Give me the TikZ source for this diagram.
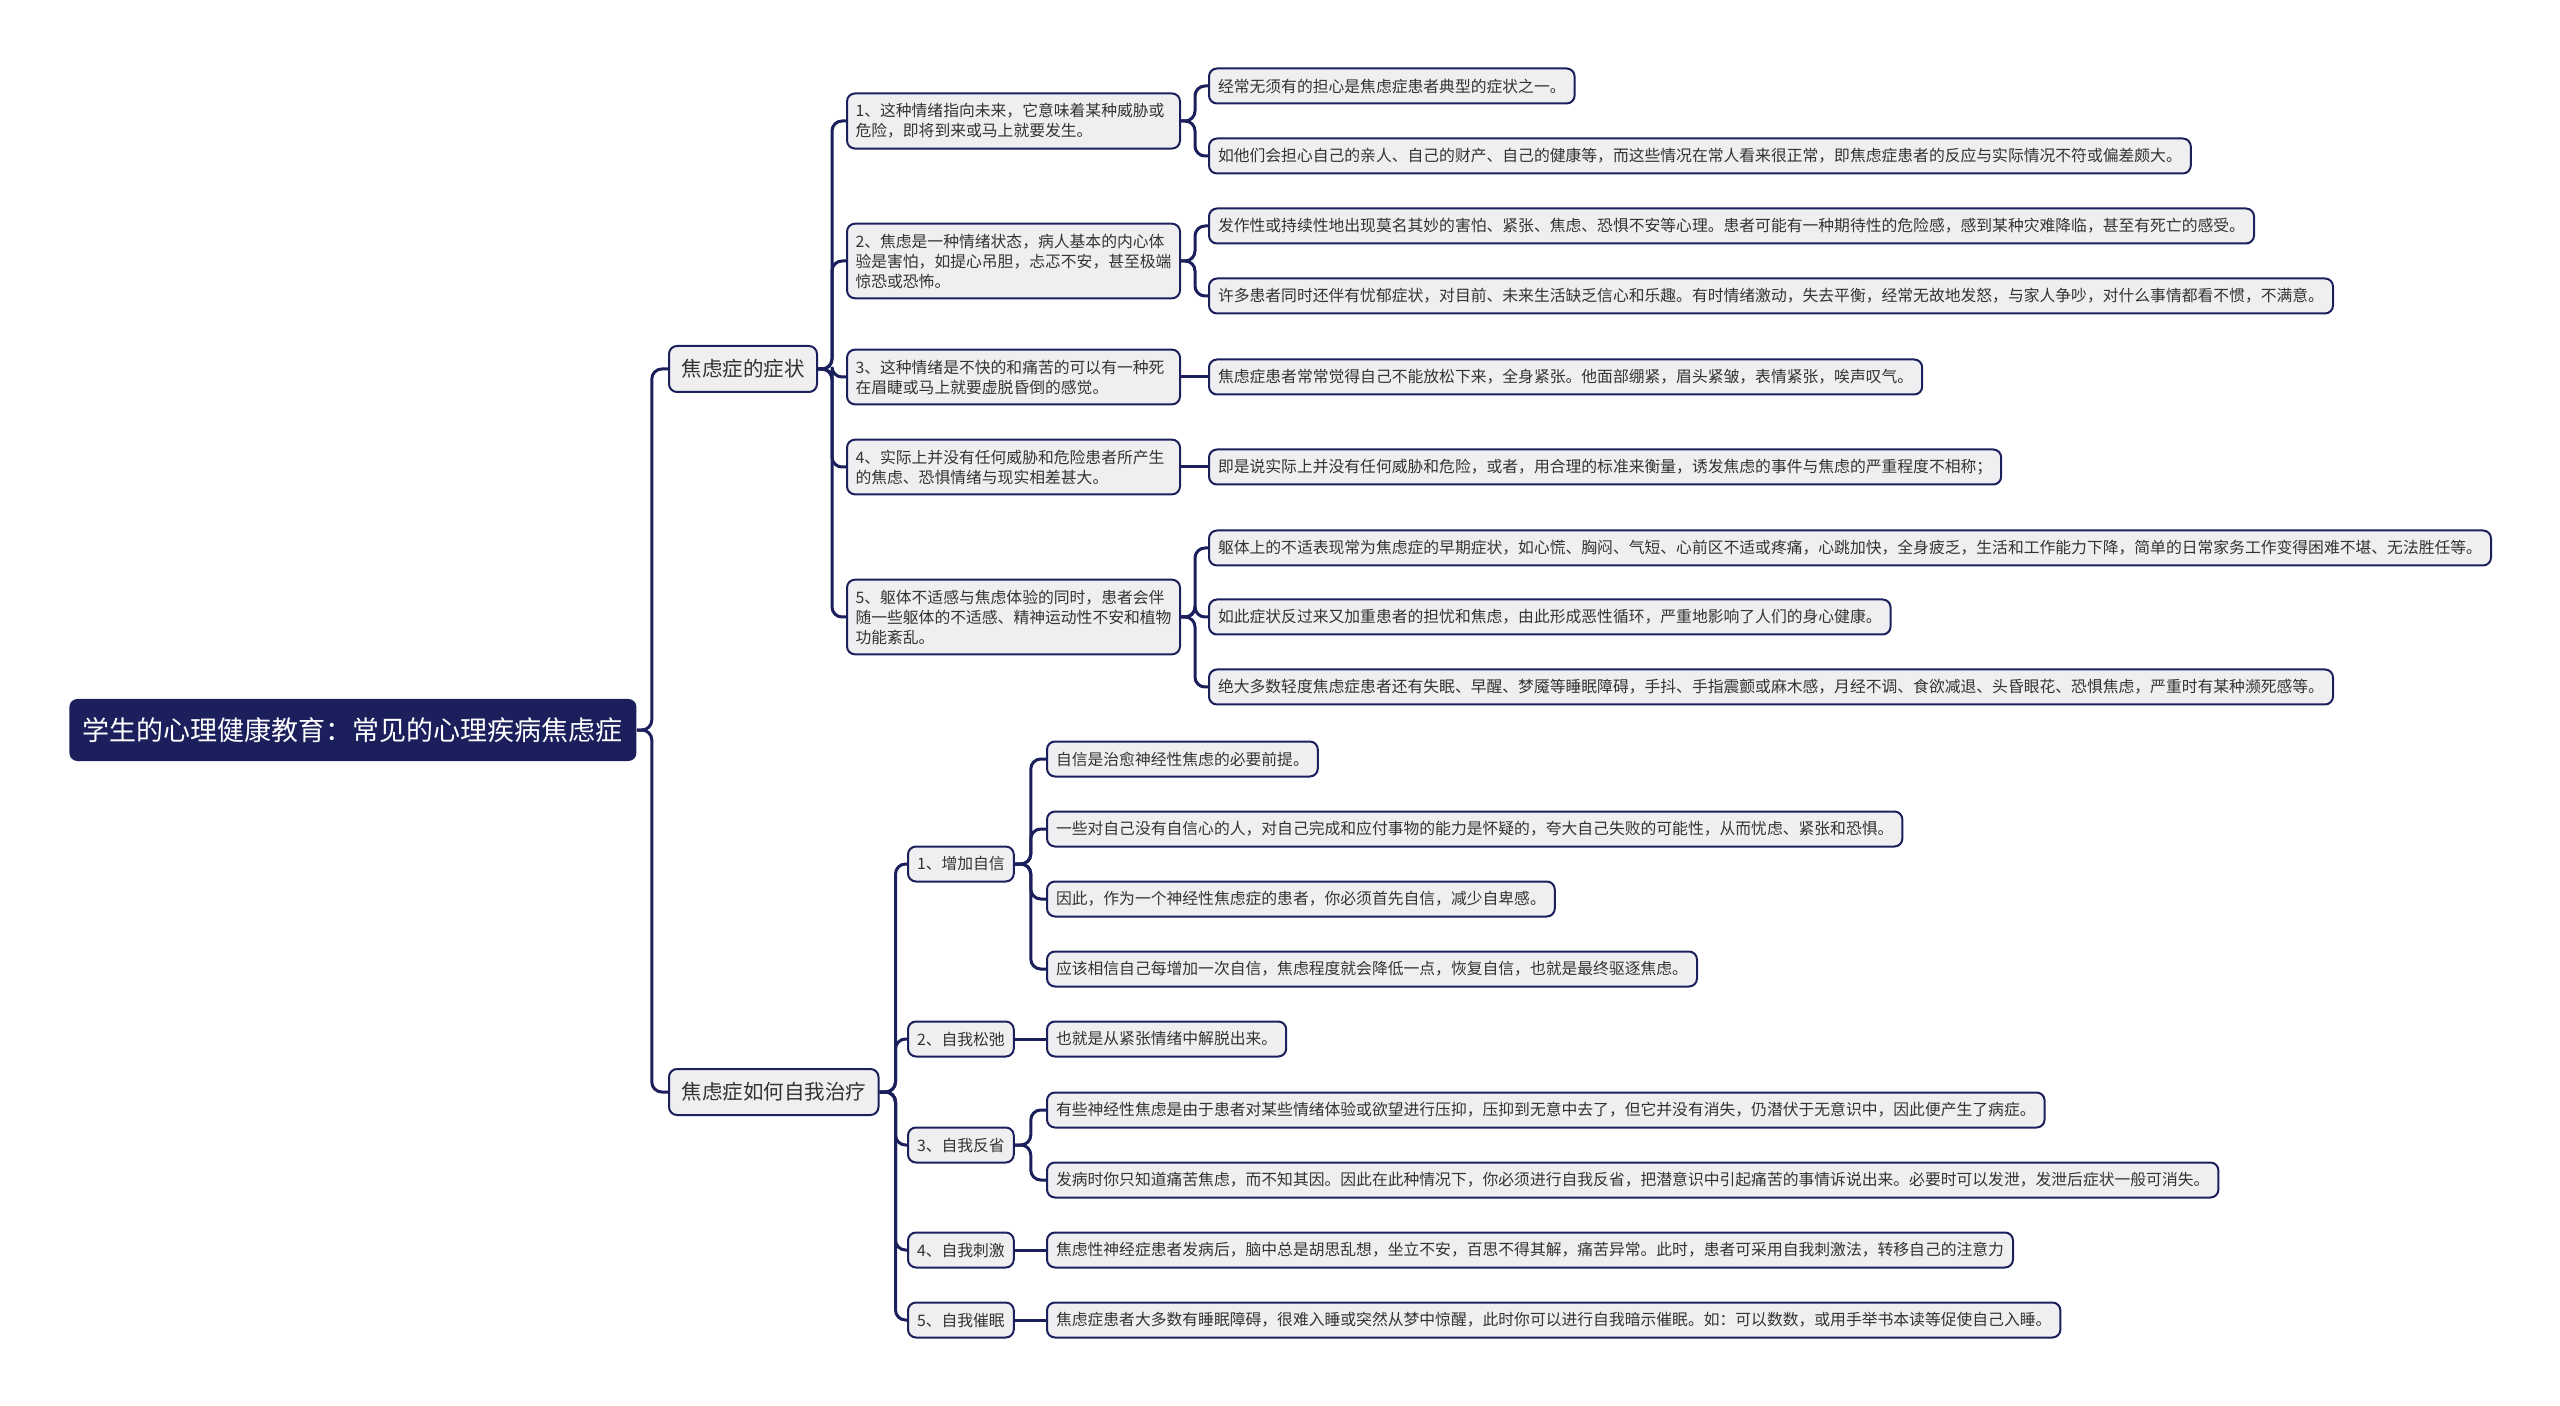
\documentclass[tikz,border=0pt]{standalone}
\usepackage{fontspec}
\setmainfont{Noto Sans CJK SC}
\usepackage{tikz}
\definecolor{MapNavy}{HTML}{1B1F5C}
\definecolor{MapFill}{HTML}{EFEFF1}
\definecolor{MapInk}{HTML}{333333}

\begin{document}
\begin{tikzpicture}[x=0.5pt,y=-0.5pt]
  \tikzstyle{mainbox}=[fill=MapNavy,text=white,rounded corners=4pt,anchor=west,
    inner xsep=6.75pt,minimum height=31pt,font=\fontsize{13.5}{16}\selectfont]
  \tikzstyle{topicbox}=[draw=MapNavy,line width=1pt,fill=MapFill,text=MapInk,
    rounded corners=4pt,anchor=west,inner xsep=6.25pt,minimum height=23pt,
    font=\fontsize{10.25}{12}\selectfont]
  \tikzstyle{causebox}=[draw=MapNavy,line width=1pt,fill=MapFill,text=MapInk,
    rounded corners=4pt,anchor=west,text width=158pt,align=left,
    inner xsep=4.25pt,inner ysep=5pt,font=\fontsize{7.9}{10}\selectfont]
  \tikzstyle{notebox}=[draw=MapNavy,line width=1pt,fill=MapFill,text=MapInk,
    rounded corners=4pt,anchor=west,inner xsep=4.5pt,minimum height=17.5pt,
    font=\fontsize{7.9}{9.5}\selectfont]
  \tikzstyle{link}=[line width=1.5pt,color=MapNavy,rounded corners=5pt]
  \useasboundingbox (0,0) rectangle (2560,1406);
  \node[mainbox] (root) at (69,730) {学生的心理健康教育：常见的心理疾病焦虑症};
  \node[topicbox] (sym) at (668,369) {焦虑症的症状};
  \node[topicbox] (cure) at (668,1092) {焦虑症如何自我治疗};
  \node[causebox] (s1) at (846,121) {1、这种情绪指向未来，它意味着某种威胁或\\
    危险，即将到来或马上就要发生。};
  \node[causebox] (s2) at (846,261) {2、焦虑是一种情绪状态，病人基本的内心体\\
    验是害怕，如提心吊胆，忐忑不安，甚至极端\\惊恐或恐怖。};
  \node[causebox] (s3) at (846,377) {3、这种情绪是不快的和痛苦的可以有一种死\\
    在眉睫或马上就要虚脱昏倒的感觉。};
  \node[causebox] (s4) at (846,467) {4、实际上并没有任何威胁和危险患者所产生\\
    的焦虑、恐惧情绪与现实相差甚大。};
  \node[causebox] (s5) at (846,617) {5、躯体不适感与焦虑体验的同时，患者会伴\\
    随一些躯体的不适感、精神运动性不安和植物\\功能紊乱。};
  \node[notebox] (s1a) at (1208,86) {经常无须有的担心是焦虑症患者典型的症状之一。};
  \node[notebox] (s1b) at (1208,156) {如他们会担心自己的亲人、自己的财产、自己的健康等，而这些情况在常人看来很正常，即焦虑症患者的反应与实际情况不符或偏差颇大。};
  \node[notebox] (s2a) at (1208,226) {发作性或持续性地出现莫名其妙的害怕、紧张、焦虑、恐惧不安等心理。患者可能有一种期待性的危险感，感到某种灾难降临，甚至有死亡的感受。};
  \node[notebox] (s2b) at (1208,296) {许多患者同时还伴有忧郁症状，对目前、未来生活缺乏信心和乐趣。有时情绪激动，失去平衡，经常无故地发怒，与家人争吵，对什么事情都看不惯，不满意。};
  \node[notebox] (s3a) at (1208,377) {焦虑症患者常常觉得自己不能放松下来，全身紧张。他面部绷紧，眉头紧皱，表情紧张，唉声叹气。};
  \node[notebox] (s4a) at (1208,467) {即是说实际上并没有任何威胁和危险，或者，用合理的标准来衡量，诱发焦虑的事件与焦虑的严重程度不相称；};
  \node[notebox] (s5a) at (1208,548) {躯体上的不适表现常为焦虑症的早期症状，如心慌、胸闷、气短、心前区不适或疼痛，心跳加快，全身疲乏，生活和工作能力下降，简单的日常家务工作变得困难不堪、无法胜任等。};
  \node[notebox] (s5b) at (1208,617) {如此症状反过来又加重患者的担忧和焦虑，由此形成恶性循环，严重地影响了人们的身心健康。};
  \node[notebox] (s5c) at (1208,687) {绝大多数轻度焦虑症患者还有失眠、早醒、梦魇等睡眠障碍，手抖、手指震颤或麻木感，月经不调、食欲减退、头昏眼花、恐惧焦虑，严重时有某种濒死感等。};
  \node[notebox] (c1) at (907,864) {1、增加自信};
  \node[notebox] (c2) at (907,1039) {2、自我松弛};
  \node[notebox] (c3) at (907,1145) {3、自我反省};
  \node[notebox] (c4) at (907,1250) {4、自我刺激};
  \node[notebox] (c5) at (907,1320) {5、自我催眠};
  \node[notebox] (c1a) at (1046,759) {自信是治愈神经性焦虑的必要前提。};
  \node[notebox] (c1b) at (1046,829) {一些对自己没有自信心的人，对自己完成和应付事物的能力是怀疑的，夸大自己失败的可能性，从而忧虑、紧张和恐惧。};
  \node[notebox] (c1c) at (1046,899) {因此，作为一个神经性焦虑症的患者，你必须首先自信，减少自卑感。};
  \node[notebox] (c1d) at (1046,969) {应该相信自己每增加一次自信，焦虑程度就会降低一点，恢复自信，也就是最终驱逐焦虑。};
  \node[notebox] (c2a) at (1046,1039) {也就是从紧张情绪中解脱出来。};
  \node[notebox] (c3a) at (1046,1110) {有些神经性焦虑是由于患者对某些情绪体验或欲望进行压抑，压抑到无意中去了，但它并没有消失，仍潜伏于无意识中，因此便产生了病症。};
  \node[notebox] (c3b) at (1046,1180) {发病时你只知道痛苦焦虑，而不知其因。因此在此种情况下，你必须进行自我反省，把潜意识中引起痛苦的事情诉说出来。必要时可以发泄，发泄后症状一般可消失。};
  \node[notebox] (c4a) at (1046,1250) {焦虑性神经症患者发病后，脑中总是胡思乱想，坐立不安，百思不得其解，痛苦异常。此时，患者可采用自我刺激法，转移自己的注意力};
  \node[notebox] (c5a) at (1046,1320) {焦虑症患者大多数有睡眠障碍，很难入睡或突然从梦中惊醒，此时你可以进行自我暗示催眠。如：可以数数，或用手举书本读等促使自己入睡。};
  \draw[link] (root.east) -- ++(15,0) |- (sym.west);
  \draw[link] (root.east) -- ++(15,0) |- (cure.west);
  \draw[link] (sym.east) -- ++(14,0) |- (s1.west);
  \draw[link] (sym.east) -- ++(14,0) |- (s2.west);
  \draw[link] (sym.east) -- ++(14,0) |- (s3.west);
  \draw[link] (sym.east) -- ++(14,0) |- (s4.west);
  \draw[link] (sym.east) -- ++(14,0) |- (s5.west);
  \draw[link] (s1.east) -- ++(14,0) |- (s1a.west);
  \draw[link] (s1.east) -- ++(14,0) |- (s1b.west);
  \draw[link] (s2.east) -- ++(14,0) |- (s2a.west);
  \draw[link] (s2.east) -- ++(14,0) |- (s2b.west);
  \draw[link] (s3.east) -- (s3a.west);
  \draw[link] (s4.east) -- (s4a.west);
  \draw[link] (s5.east) -- ++(14,0) |- (s5a.west);
  \draw[link] (s5.east) -- ++(14,0) |- (s5b.west);
  \draw[link] (s5.east) -- ++(14,0) |- (s5c.west);
  \draw[link] (cure.east) -- ++(16,0) |- (c1.west);
  \draw[link] (cure.east) -- ++(16,0) |- (c2.west);
  \draw[link] (cure.east) -- ++(16,0) |- (c3.west);
  \draw[link] (cure.east) -- ++(16,0) |- (c4.west);
  \draw[link] (cure.east) -- ++(16,0) |- (c5.west);
  \draw[link] (c1.east) -- ++(16,0) |- (c1a.west);
  \draw[link] (c1.east) -- ++(16,0) |- (c1b.west);
  \draw[link] (c1.east) -- ++(16,0) |- (c1c.west);
  \draw[link] (c1.east) -- ++(16,0) |- (c1d.west);
  \draw[link] (c2.east) -- (c2a.west);
  \draw[link] (c3.east) -- ++(16,0) |- (c3a.west);
  \draw[link] (c3.east) -- ++(16,0) |- (c3b.west);
  \draw[link] (c4.east) -- (c4a.west);
  \draw[link] (c5.east) -- (c5a.west);
\end{tikzpicture}
\end{document}
